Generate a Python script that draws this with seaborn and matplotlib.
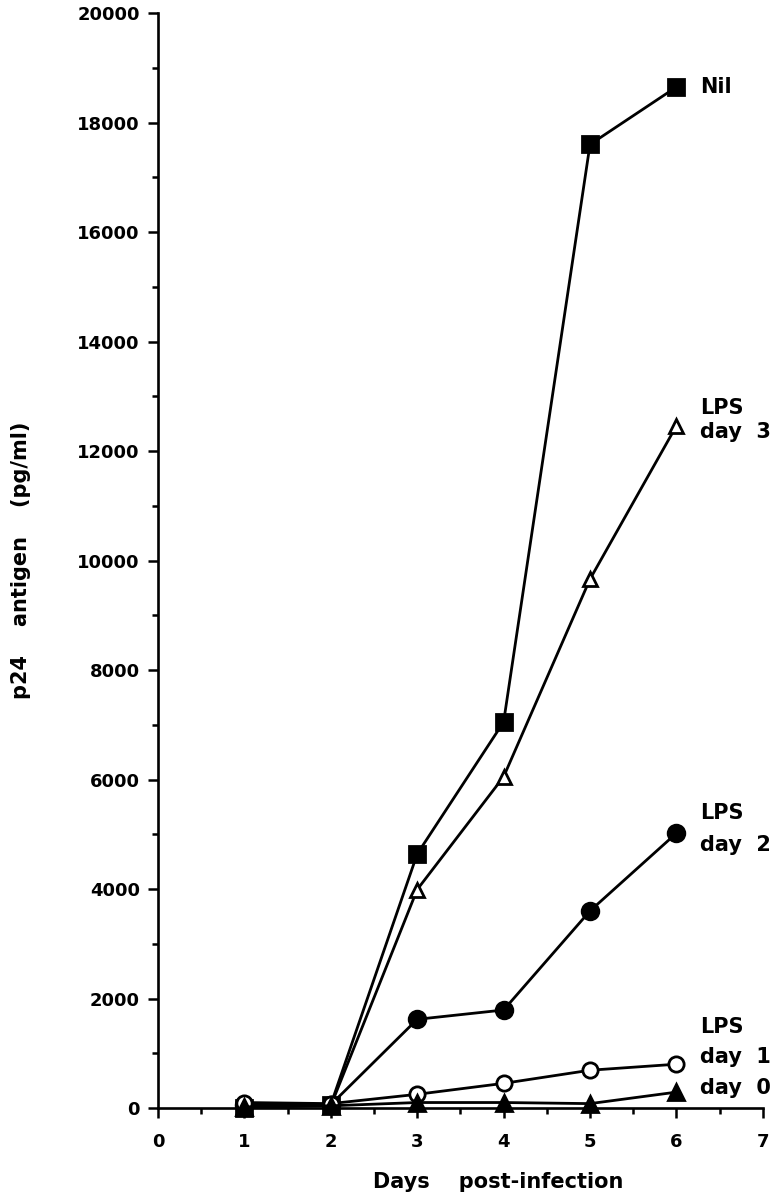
import matplotlib
matplotlib.use("Agg")
import matplotlib.pyplot as plt
import seaborn as sns
from matplotlib.ticker import MultipleLocator

# values (pg/ml)
days = [1, 2, 3, 4, 5, 6]
nil = [0, 60, 4640, 7050, 17600, 18650]
lps_day3 = [30, 40, 3990, 6050, 9660, 12460]
lps_day2 = [60, 60, 1620, 1790, 3600, 5020]
lps_day1 = [100, 80, 250, 450, 690, 800]
lps_day0 = [20, 40, 100, 100, 80, 290]

x_ticks = [0, 1, 2, 3, 4, 5, 6, 7]
y_ticks = [0, 2000, 4000, 6000, 8000, 10000, 12000, 14000, 16000, 18000, 20000]

sns.set_theme(style="ticks")
plt.rcParams["font.family"] = ["DejaVu Sans"]
plt.rcParams["font.weight"] = "bold"

fig = plt.figure(figsize=(7.84, 11.99), dpi=100)
ax = fig.add_axes([0.2015, 0.0759, 0.7715, 0.9132])

series = [
    (nil, "s", "black", 12),
    (lps_day3, "^", "white", 10),
    (lps_day2, "o", "black", 12),
    (lps_day1, "o", "white", 11),
    (lps_day0, "^", "black", 11),
]
for vals, mk, fc, ms in series:
    sns.lineplot(x=days, y=vals, ax=ax, color="black", linewidth=2.0,
                 marker=mk, markersize=ms, markerfacecolor=fc,
                 markeredgecolor="black", markeredgewidth=2.0,
                 clip_on=False, zorder=3)

ax.set_xlim(0, 7)
ax.set_ylim(0, 20000)
ax.set_xticks(x_ticks)
ax.set_yticks(y_ticks)
ax.set_xticklabels([str(t) for t in x_ticks])
ax.set_yticklabels([str(t) for t in y_ticks])
ax.xaxis.set_minor_locator(MultipleLocator(0.5))
ax.yaxis.set_minor_locator(MultipleLocator(1000))

sns.despine(ax=ax)
for side in ["left", "bottom"]:
    ax.spines[side].set_linewidth(1.9)
    ax.spines[side].set_color("black")

ax.tick_params(axis="both", which="major", direction="out", width=1.8,
               color="black", labelsize=13, labelcolor="black")
ax.tick_params(axis="x", which="major", length=7, pad=11)
ax.tick_params(axis="y", which="major", length=7, pad=6)
ax.tick_params(axis="both", which="minor", direction="out", width=1.8,
               length=4, color="black")
for lab in ax.get_xticklabels() + ax.get_yticklabels():
    lab.set_fontweight("bold")

ax.set_xlabel("Days    post-infection", fontsize=15, fontweight="bold",
              color="black")
ax.xaxis.set_label_coords(0.563, -0.068)
ax.xaxis.label.set_va("center")
ax.set_ylabel("p24    antigen    (pg/ml)", fontsize=15, fontweight="bold",
              color="black")
ax.yaxis.set_label_coords(-0.226, 0.5)
ax.yaxis.label.set_va("center")

end_labels = [
    ("Nil", 18650),
    ("LPS", 12790), ("day  3", 12350),
    ("LPS", 5390), ("day  2", 4800),
    ("LPS", 1480), ("day  1", 930), ("day  0", 365),
]
for txt, yv in end_labels:
    ax.text(6.27, yv, txt, fontsize=15, fontweight="bold", ha="left",
            va="center", color="black", clip_on=False)

fig.savefig("out.png", dpi=100, facecolor="white")
plt.close(fig)
